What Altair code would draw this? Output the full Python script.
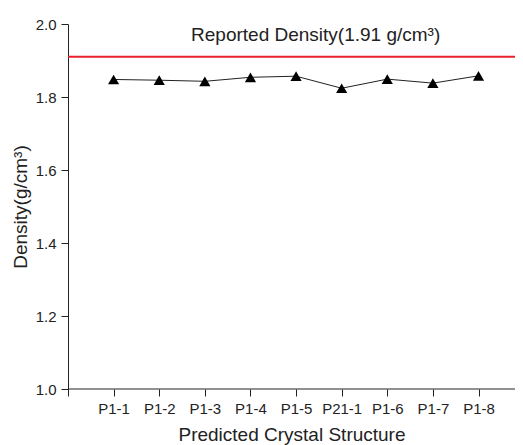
import altair as alt
import pandas as pd

# ---- data ----
structures = ["P1-1", "P1-2", "P1-3", "P1-4", "P1-5", "P21-1", "P1-6", "P1-7", "P1-8"]
densities = [1.848, 1.846, 1.843, 1.854, 1.857, 1.824, 1.849, 1.838, 1.858]
reported_density = 1.91
reported_label = "Reported Density(1.91 g/cm³)"
y_ticks = [1.0, 1.1, 1.2, 1.3, 1.4, 1.5, 1.6, 1.7, 1.8, 1.9, 2.0]
x_max = 9.8

df = pd.DataFrame({
    "pos": list(range(1, len(structures) + 1)),
    "structure": structures,
    "density": densities,
})
ref_df = pd.DataFrame({"x0": [0], "x1": [len(structures) + 1], "y": [reported_density]})
axis_df = pd.DataFrame({"x0": [0], "x1": [len(structures) + 1], "y": [1.0]})
label_df = pd.DataFrame({"x": [5.43], "y": [1.97], "text": [reported_label]})

FONT = "Liberation Sans"
label_js = "[" + ",".join(f"'{s}'" for s in structures) + "]"

x_scale = alt.Scale(domain=[0, x_max], nice=False, zero=False)
y_scale = alt.Scale(domain=[1.0, 2.0], nice=False, zero=False)

x_axis = alt.Axis(
    title="Predicted Crystal Structure",
    values=[i * 0.5 for i in range(0, 20)],
    labelExpr=f"(datum.value % 1 === 0 && datum.value >= 1 && datum.value <= {len(structures)}) ? {label_js}[datum.value - 1] : ''",
    tickSize={"condition": {"test": "datum.value % 1 === 0", "value": 7}, "value": 4},
    grid=False,
    domain=False,
    labelFontSize=15,
    titleFontSize=19,
    labelPadding=5,
    titlePadding=9,
    labelFlush=False,
    labelOverlap=False,
)
y_axis = alt.Axis(
    title="Density(g/cm³)",
    values=y_ticks,
    labelExpr="round(datum.value * 10) % 2 === 0 ? format(datum.value, '.1f') : ''",
    tickSize={"condition": {"test": "round(datum.value * 10) % 2 === 0", "value": 7}, "value": 4},
    grid=False,
    labelFontSize=15,
    titleFontSize=19,
    labelPadding=5,
    titlePadding=5,
    labelFlush=False,
    labelOverlap=False,
)

base = alt.Chart(df)

line = base.mark_line(color="#222222", strokeWidth=1).encode(
    x=alt.X("pos:Q", scale=x_scale, axis=x_axis),
    y=alt.Y("density:Q", scale=y_scale, axis=y_axis),
)
points = base.mark_point(shape="triangle-up", filled=True, color="black", size=125, opacity=1).encode(
    x=alt.X("pos:Q", scale=x_scale),
    y=alt.Y("density:Q", scale=y_scale),
)
ref_line = alt.Chart(ref_df).mark_rule(color="#e8202a", strokeWidth=2, clip=False).encode(
    x=alt.X("x0:Q", scale=x_scale),
    x2="x1:Q",
    y=alt.Y("y:Q", scale=y_scale),
)
x_domain = alt.Chart(axis_df).mark_rule(color="#222222", strokeWidth=1, clip=False).encode(
    x=alt.X("x0:Q", scale=x_scale),
    x2="x1:Q",
    y=alt.Y("y:Q", scale=y_scale),
)
ref_text = alt.Chart(label_df).mark_text(fontSize=19, font=FONT, color="#222222").encode(
    x=alt.X("x:Q", scale=x_scale),
    y=alt.Y("y:Q", scale=y_scale),
    text="text:N",
)

chart = alt.layer(x_domain, ref_line, line, points, ref_text).properties(
    width=447,
    height=365,
    autosize=alt.AutoSizeParams(type="none"),
    padding={"left": 60, "top": 16, "right": 0, "bottom": 56},
).configure_view(stroke=None).configure_axis(
    labelFont=FONT,
    titleFont=FONT,
    labelColor="#222222",
    titleColor="#222222",
    titleFontWeight="normal",
    tickColor="#222222",
    domainColor="#222222",
    tickWidth=1,
    domainWidth=1,
)

chart.save("out.html", embed_options={"renderer": "svg", "actions": False})
